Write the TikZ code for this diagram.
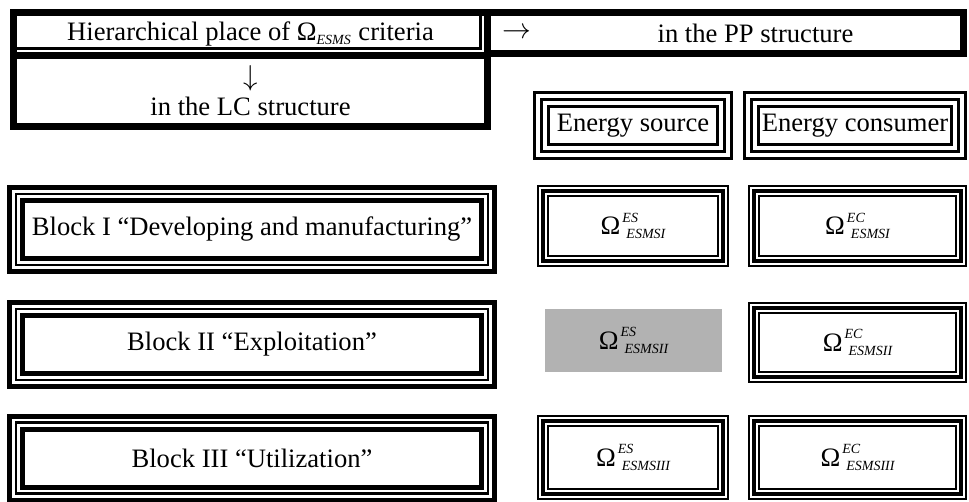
\documentclass[tikz,border=0pt]{standalone}
\usepackage{amsmath}
\usepackage{fontspec}
\setmainfont{Liberation Serif}
\DeclareMathSizes{13.3}{13.3}{7}{5}

% Omega con indices arriba y abajo
\newcommand{\omcrit}[2]{Ω\kern1pt\raisebox{6.2pt}{\rlap{\fontsize{7}{8}\selectfont\itshape #1}}\kern2pt\raisebox{-2.2pt}{\fontsize{7}{8}\selectfont\itshape #2}}

% lineas exterior e interior alrededor de un nodo
\newcommand{\triframe}[3]{%
  \draw[line width=#2] ([shift={(-#3,#3)}]#1.north west) rectangle ([shift={(#3,-#3)}]#1.south east);
  \draw[line width=#2] ([shift={(#3,-#3)}]#1.north west) rectangle ([shift={(-#3,#3)}]#1.south east);}

\tikzset{
  hdrcell/.style={draw, line width=3.5pt, outer sep=0pt, inner sep=0pt, minimum width=237pt},
  blockbox/.style={draw, line width=1.2pt, outer sep=0pt, minimum width=236pt, minimum height=35.5pt},
  enbox/.style={draw, line width=1.6pt, outer sep=0pt, inner sep=2pt, minimum height=25.9pt},
  critbox/.style={draw, line width=2.2pt, outer sep=0pt, minimum height=35pt},
  critgray/.style={fill=black!30, outer sep=0pt, minimum width=88.5pt, minimum height=31.5pt}
}

\begin{document}
\begin{tikzpicture}[x=1pt, y=-1pt, font=\fontsize{13.3}{16}\selectfont]

    \useasboundingbox (0,0) rectangle (484.5,251);

    % Cabecera
    \node[hdrcell, minimum height=21.5pt] (hier) at (125.25,17) {Hierarchical place of $\text{Ω}_{\textit{ESMS}}$ criteria};
    \node[hdrcell, minimum width=238pt, minimum height=20.5pt] (pp) at (362.75,16.5) {};
    \node[hdrcell, minimum height=35.5pt, align=center] (lc) at (125.25,45.5) {$\downarrow$\\[-1pt]in the LC structure};
    \draw[line width=1.2pt] ([xshift=-3.5pt]hier.north east) |- ([yshift=3.5pt]hier.south west);

    \node[anchor=west] (pparrow) at ([xshift=4pt]pp.west) {$\rightarrow$};
    \node (pptext) at ([xshift=15pt]pp.center) {in the PP structure};

    % Columnas
    \node[enbox, minimum width=91.4pt] (src) at (316.5,62.75) {Energy source};
    \node[enbox, minimum width=103.4pt] (cons) at (427.5,62.75) {Energy consumer};
    \triframe{src}{1.6pt}{3.5pt}
    \triframe{cons}{1.6pt}{3.5pt}

    % Bloques
    \node[blockbox] (blkI) at (126,114.75) {Block I “Developing and manufacturing”};
    \node[blockbox] (blkII) at (126,172.25) {Block II “Exploitation”};
    \node[blockbox] (blkIII) at (126,229) {Block III “Utilization”};
    \triframe{blkI}{2.5pt}{3.25pt}
    \triframe{blkII}{2.5pt}{3.25pt}
    \triframe{blkIII}{2.5pt}{3.25pt}

    % Criterios
    \node[critbox, minimum width=90pt] (srcI) at (316.5,113) {\omcrit{ES}{ESMSI}};
    \node[critbox, minimum width=103.5pt] (consI) at (428.75,113) {\omcrit{EC}{ESMSI}};

    \node[critgray] (srcII) at (316.75,170.25) {\omcrit{ES}{ESMSII}};
    \node[critbox, minimum width=103.5pt, minimum height=34.5pt] (consII) at (428.75,171.25) {\omcrit{EC}{ESMSII}};

    \node[critbox, minimum width=90pt, minimum height=36.5pt] (srcIII) at (316.5,228.75) {\omcrit{ES}{ESMSIII}};
    \node[critbox, minimum width=103.5pt, minimum height=36.5pt] (consIII) at (428.75,228.75) {\omcrit{EC}{ESMSIII}};

    \triframe{srcI}{1pt}{2.5pt}
    \triframe{consI}{1pt}{2.5pt}
    \triframe{consII}{1pt}{2.5pt}
    \triframe{srcIII}{1pt}{2.5pt}
    \triframe{consIII}{1pt}{2.5pt}

\end{tikzpicture}
\end{document}
